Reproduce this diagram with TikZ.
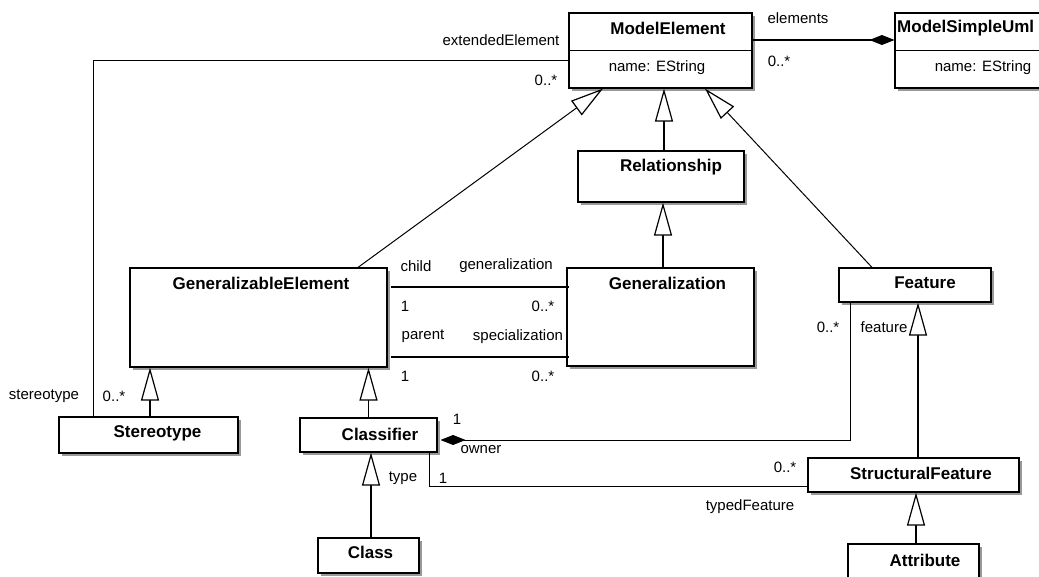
\documentclass[tikz,border=0pt]{standalone}
\usepackage{fontspec}
\setmainfont{Liberation Sans}
\usetikzlibrary{arrows.meta,calc}
\begin{document}
\begin{tikzpicture}[x=1pt,y=-1pt,
  cls/.style={draw,line width=1.2pt,fill=white,inner sep=0pt,rectangle,
    preaction={fill=black!40,transform canvas={shift={(3pt,-3pt)}}}},
  ttl/.style={font=\fontsize{17}{20}\selectfont\bfseries,inner sep=0pt},
  lbl/.style={font=\fontsize{15}{18}\selectfont,inner sep=0pt},
  assoc/.style={line width=1pt},
  assocb/.style={line width=1.7pt},
  genv/.style={line width=1.7pt,-{Triangle[length=33pt,width=18pt,fill=white,line width=1.2pt]}},
  gend/.style={line width=1pt,-{Triangle[length=33pt,width=18pt,fill=white,line width=1.2pt]}},
  compo/.style={-{Diamond[length=25pt,width=10pt]}}
]
\useasboundingbox (0,0) rectangle (1039,576);
\clip (0,0) rectangle (1039,576);
\fill[white] (0,0) rectangle (1039,576);

% classes
\node[cls,minimum width=183pt,minimum height=75pt] (me) at (660.5,50.5) {};
\node[cls,minimum width=185pt,minimum height=75pt] (msu) at (987.5,50.5) {};
\node[cls,minimum width=166pt,minimum height=51pt] (rel) at (661,176.5) {};
\node[cls,minimum width=257pt,minimum height=99pt] (ge) at (258.5,317.5) {};
\node[cls,minimum width=187pt,minimum height=98pt] (gz) at (660.5,317) {};
\node[cls,minimum width=152pt,minimum height=34pt] (fe) at (915,285) {};
\node[cls,minimum width=179pt,minimum height=36pt] (st) at (148.5,435) {};
\node[cls,minimum width=137pt,minimum height=34pt] (cl) at (368.5,435) {};
\node[cls,minimum width=211pt,minimum height=34pt] (sf) at (913.5,475) {};
\node[cls,minimum width=101pt,minimum height=35pt] (cs) at (368.5,555.5) {};
\node[cls,minimum width=131pt,minimum height=36pt] (at) at (913.5,562) {};

% compartments
\draw[line width=1.2pt] (me.west) -- (me.east);
\draw[line width=1.2pt] (msu.west) -- (msu.east);

% titles
\node[ttl] (tme) at (668,28) {ModelElement};
\node[lbl] (ame) at (657,68) {name: EString};
\node[ttl,anchor=west] (tmsu) at (897,28) {ModelSimpleUml};
\node[lbl] (amsu) at (983,68) {name: EString};
\node[ttl] (trel) at (671,167) {Relationship};
\node[ttl] (tge) at (261,283) {GeneralizableElement};
\node[ttl] (tgz) at (667.5,283) {Generalization};
\node[ttl] (tfe) at (925,283) {Feature};
\node[ttl] (tst) at (157.5,433) {Stereotype};
\node[ttl] (tcl) at (380,434) {Classifier};
\node[ttl] (tcs) at (370.5,552) {Class};
\node[ttl] (tsf) at (921,473) {StructuralFeature};
\node[ttl] (tat) at (925,560) {Attribute};

% generalizations
\draw[gend] ([xshift=99.5pt]ge.north) -- ([xshift=-57.5pt]me.south);
\draw[genv] ([xshift=3pt]rel.north) -- ([xshift=3pt]rel.north |- me.south);
\draw[gend] ([xshift=-43pt]fe.north) -- ([xshift=44.5pt]me.south);
\draw[genv] ([xshift=2.5pt]gz.north) -- ([xshift=2.5pt]gz.north |- rel.south);
\draw[genv] ([xshift=1.5pt]st.north) -- ([xshift=1.5pt]st.north |- ge.south);
\draw[genv] (cl.north) -- (cl.north |- ge.south);
\draw[genv] ([xshift=2.5pt]cs.north) -- ([xshift=2.5pt]cs.north |- cl.south);
\draw[genv] ([xshift=4.5pt]sf.north) -- ([xshift=4.5pt]sf.north |- fe.south);
\draw[genv] ([xshift=2.5pt]at.north) -- ([xshift=2.5pt]at.north |- sf.south);

% associations
\draw[assocb,compo] ([yshift=10.5pt]me.east) -- ([yshift=10.5pt]msu.west);
\draw[assoc] ([yshift=-9.5pt]me.west) -| ([xshift=-55.5pt]st.north);
\draw[assocb] ([xshift=3pt,yshift=30.5pt]ge.east) -- ([xshift=3pt,yshift=30.5pt]ge.east -| gz.west);
\draw[assocb] ([xshift=3pt,yshift=-39.5pt]ge.east) -- ([xshift=3pt,yshift=-39.5pt]ge.east -| gz.west);
\draw[assoc,compo] ([xshift=-65pt]fe.south) |- ([xshift=3pt,yshift=-5pt]cl.east);
\draw[assoc] ([xshift=60.5pt]cl.south) |- ([yshift=-11pt]sf.west);

% association labels
\node[lbl] (l1) at (501,40) {extendedElement};
\node[lbl] (l2) at (546,80) {0..*};
\node[lbl] (l3) at (798,18) {elements};
\node[lbl] (l4) at (779,61) {0..*};
\node[lbl] (l5) at (44,396) {stereotype};
\node[lbl] (l6) at (114,396) {0..*};
\node[lbl] (l7) at (416,266) {child};
\node[lbl] (l8) at (506,266) {generalization};
\node[lbl] (l9) at (405,306) {1};
\node[lbl] (l10) at (543,306) {0..*};
\node[lbl] (l11) at (423,336) {parent};
\node[lbl] (l12) at (518,337) {specialization};
\node[lbl] (l13) at (405,376) {1};
\node[lbl] (l14) at (543,376) {0..*};
\node[lbl] (l15) at (457,419) {1};
\node[lbl] (l16) at (481,450) {owner};
\node[lbl] (l17) at (403,478) {type};
\node[lbl] (l18) at (443,478) {1};
\node[lbl] (l19) at (785,467) {0..*};
\node[lbl] (l20) at (750,507) {typedFeature};
\node[lbl] (l21) at (828,327) {0..*};
\node[lbl] (l22) at (884,327) {feature};
\end{tikzpicture}
\end{document}
